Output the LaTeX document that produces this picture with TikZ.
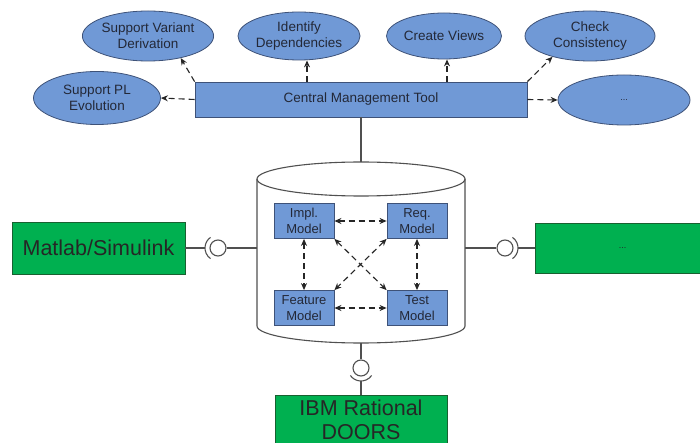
\documentclass[tikz,border=0pt]{standalone}
\usepackage{fontspec}
\setmainfont{Liberation Sans}
\usepackage{tikz}
\usetikzlibrary{arrows.meta,shapes.geometric}
\definecolor{mt_blue}{RGB}{112,153,214}
\definecolor{mt_blueline}{RGB}{62,82,120}
\definecolor{mt_green}{RGB}{0,176,80}
\definecolor{mt_greenline}{RGB}{24,96,48}
\definecolor{mt_grey}{RGB}{80,80,80}
\definecolor{mt_text}{RGB}{35,40,55}
\tikzstyle{task}=[ellipse,fill=mt_blue,draw=mt_blueline,line width=0.8pt,
  inner sep=0pt,align=center,text=mt_text,font=\fontsize{13.5}{16}\selectfont]
\tikzstyle{toolbox}=[rectangle,fill=mt_blue,draw=mt_blueline,line width=0.8pt,
  inner sep=0pt,minimum width=332pt,minimum height=35pt,text=mt_text,
  font=\fontsize{13.5}{16}\selectfont]
\tikzstyle{model}=[rectangle,fill=mt_blue,draw=mt_blueline,line width=0.8pt,
  inner sep=0pt,minimum width=60pt,minimum height=35pt,align=center,
  text=mt_text,font=\fontsize{13}{16}\selectfont]
\tikzstyle{ext}=[rectangle,fill=mt_green,draw=mt_greenline,line width=0.8pt,
  inner sep=0pt,align=center,text=black!85,font=\fontsize{21.5}{24}\selectfont]
\tikzstyle{dep}=[draw=black!85,line width=1.1pt,dash pattern=on 6pt off 4pt,
  -{Stealth[length=7pt,width=6pt]}]
\tikzstyle{link}=[dep,{Stealth[length=7pt,width=6pt]}-{Stealth[length=7pt,width=6pt]}]
\tikzstyle{ball}=[circle,draw=mt_grey,fill=white,line width=1.1pt,
  minimum size=16pt,inner sep=0pt]
\tikzstyle{wire}=[draw=mt_grey,line width=1.1pt]

\begin{document}
\begin{tikzpicture}[x=1pt,y=-1pt]
        \useasboundingbox (0,0) rectangle (700,443);
        % management tool and its tasks
        \node[style=toolbox] (tool) at (361,99.5) {Central Management Tool};
        \node[style=task,minimum width=130pt,minimum height=50pt] (e1) at (148,36) {Support Variant\\Derivation};
        \node[style=task,minimum width=120pt,minimum height=48pt] (e2) at (299,36) {Identify\\Dependencies};
        \node[style=task,minimum width=115pt,minimum height=46pt] (e3) at (444,36) {Create Views};
        \node[style=task,minimum width=130pt,minimum height=50pt] (e4) at (590,36) {Check\\Consistency};
        \node[style=task,minimum width=127pt,minimum height=53pt] (e5) at (97,98) {Support PL\\Evolution};
        \node[style=task,minimum width=132pt,minimum height=50pt,font=\fontsize{9}{10}\selectfont] (e6) at (624,100) {...};
        \coordinate (t2) at (307,82);
        \coordinate (t3) at (447,82);
        \draw[style=dep] (tool.north west) to (e1.-34);
        \draw[style=dep] (t2) to (t2 |- e2.south);
        \draw[style=dep] (t3) to (t3 |- e3.south);
        \draw[style=dep] (tool.north east) to (e4.209);
        \draw[style=dep] (tool.west) to (e5.east);
        \draw[style=dep] (tool.east) to (e6.west);

        % repository
        \coordinate (ctop) at (361,162);
        \coordinate (cl) at (257,248);
        \coordinate (cr) at (465,248);
        \coordinate (cbot) at (361,343);
        \draw[wire,fill=white] (257,179) -- (257,326) arc[start angle=180,end angle=0,x radius=104,y radius=17] -- (465,179);
        \draw[wire] (361,179) ellipse [x radius=104,y radius=17];
        \draw[wire] (tool.south) to (ctop);

        \node[style=model] (m1) at (304,221) {Impl.\\Model};
        \node[style=model] (m2) at (417,221) {Req.\\Model};
        \node[style=model] (m3) at (304,308) {Feature\\Model};
        \node[style=model] (m4) at (417,308) {Test\\Model};
        \draw[style=link] (m1.east) to (m2.west);
        \draw[style=link] (m3.east) to (m4.west);
        \draw[style=link] (m1.south) to (m3.north);
        \draw[style=link] (m2.south) to (m4.north);
        \draw[style=link] (m1.south east) to (m4.north west);
        \draw[style=link] (m2.south west) to (m3.north east);

        % tools plugged in
        \node[style=ext,minimum width=173pt,minimum height=52pt] (mat) at (98.5,248) {Matlab/Simulink};
        \node[style=ext,minimum width=175pt,minimum height=50pt,font=\fontsize{9}{10}\selectfont] (more) at (622.5,248) {...};
        \node[style=ext,minimum width=172pt,minimum height=50pt] (doors) at (361,420) {IBM Rational\\DOORS};

        \node[style=ball] (b1) at (218,248) {};
        \node[style=ball] (b2) at (505,248) {};
        \node[style=ball] (b3) at (361,368) {};
        \coordinate (s1) at (205,248);
        \coordinate (s2) at (518,248);
        \coordinate (s3) at (361,381);
        \draw[wire] (218,248) ++(125:13) arc[start angle=125,end angle=235,radius=13];
        \draw[wire] (505,248) ++(-55:13) arc[start angle=-55,end angle=55,radius=13];
        \draw[wire] (361,368) ++(35:13) arc[start angle=35,end angle=145,radius=13];
        \draw[wire] (mat.east) to (s1);
        \draw[wire] (b1) to (cl);
        \draw[wire] (cr) to (b2);
        \draw[wire] (s2) to (more.west);
        \draw[wire] (cbot) to (b3);
        \draw[wire] (s3) to (doors.north);
    \end{tikzpicture}
\end{document}
